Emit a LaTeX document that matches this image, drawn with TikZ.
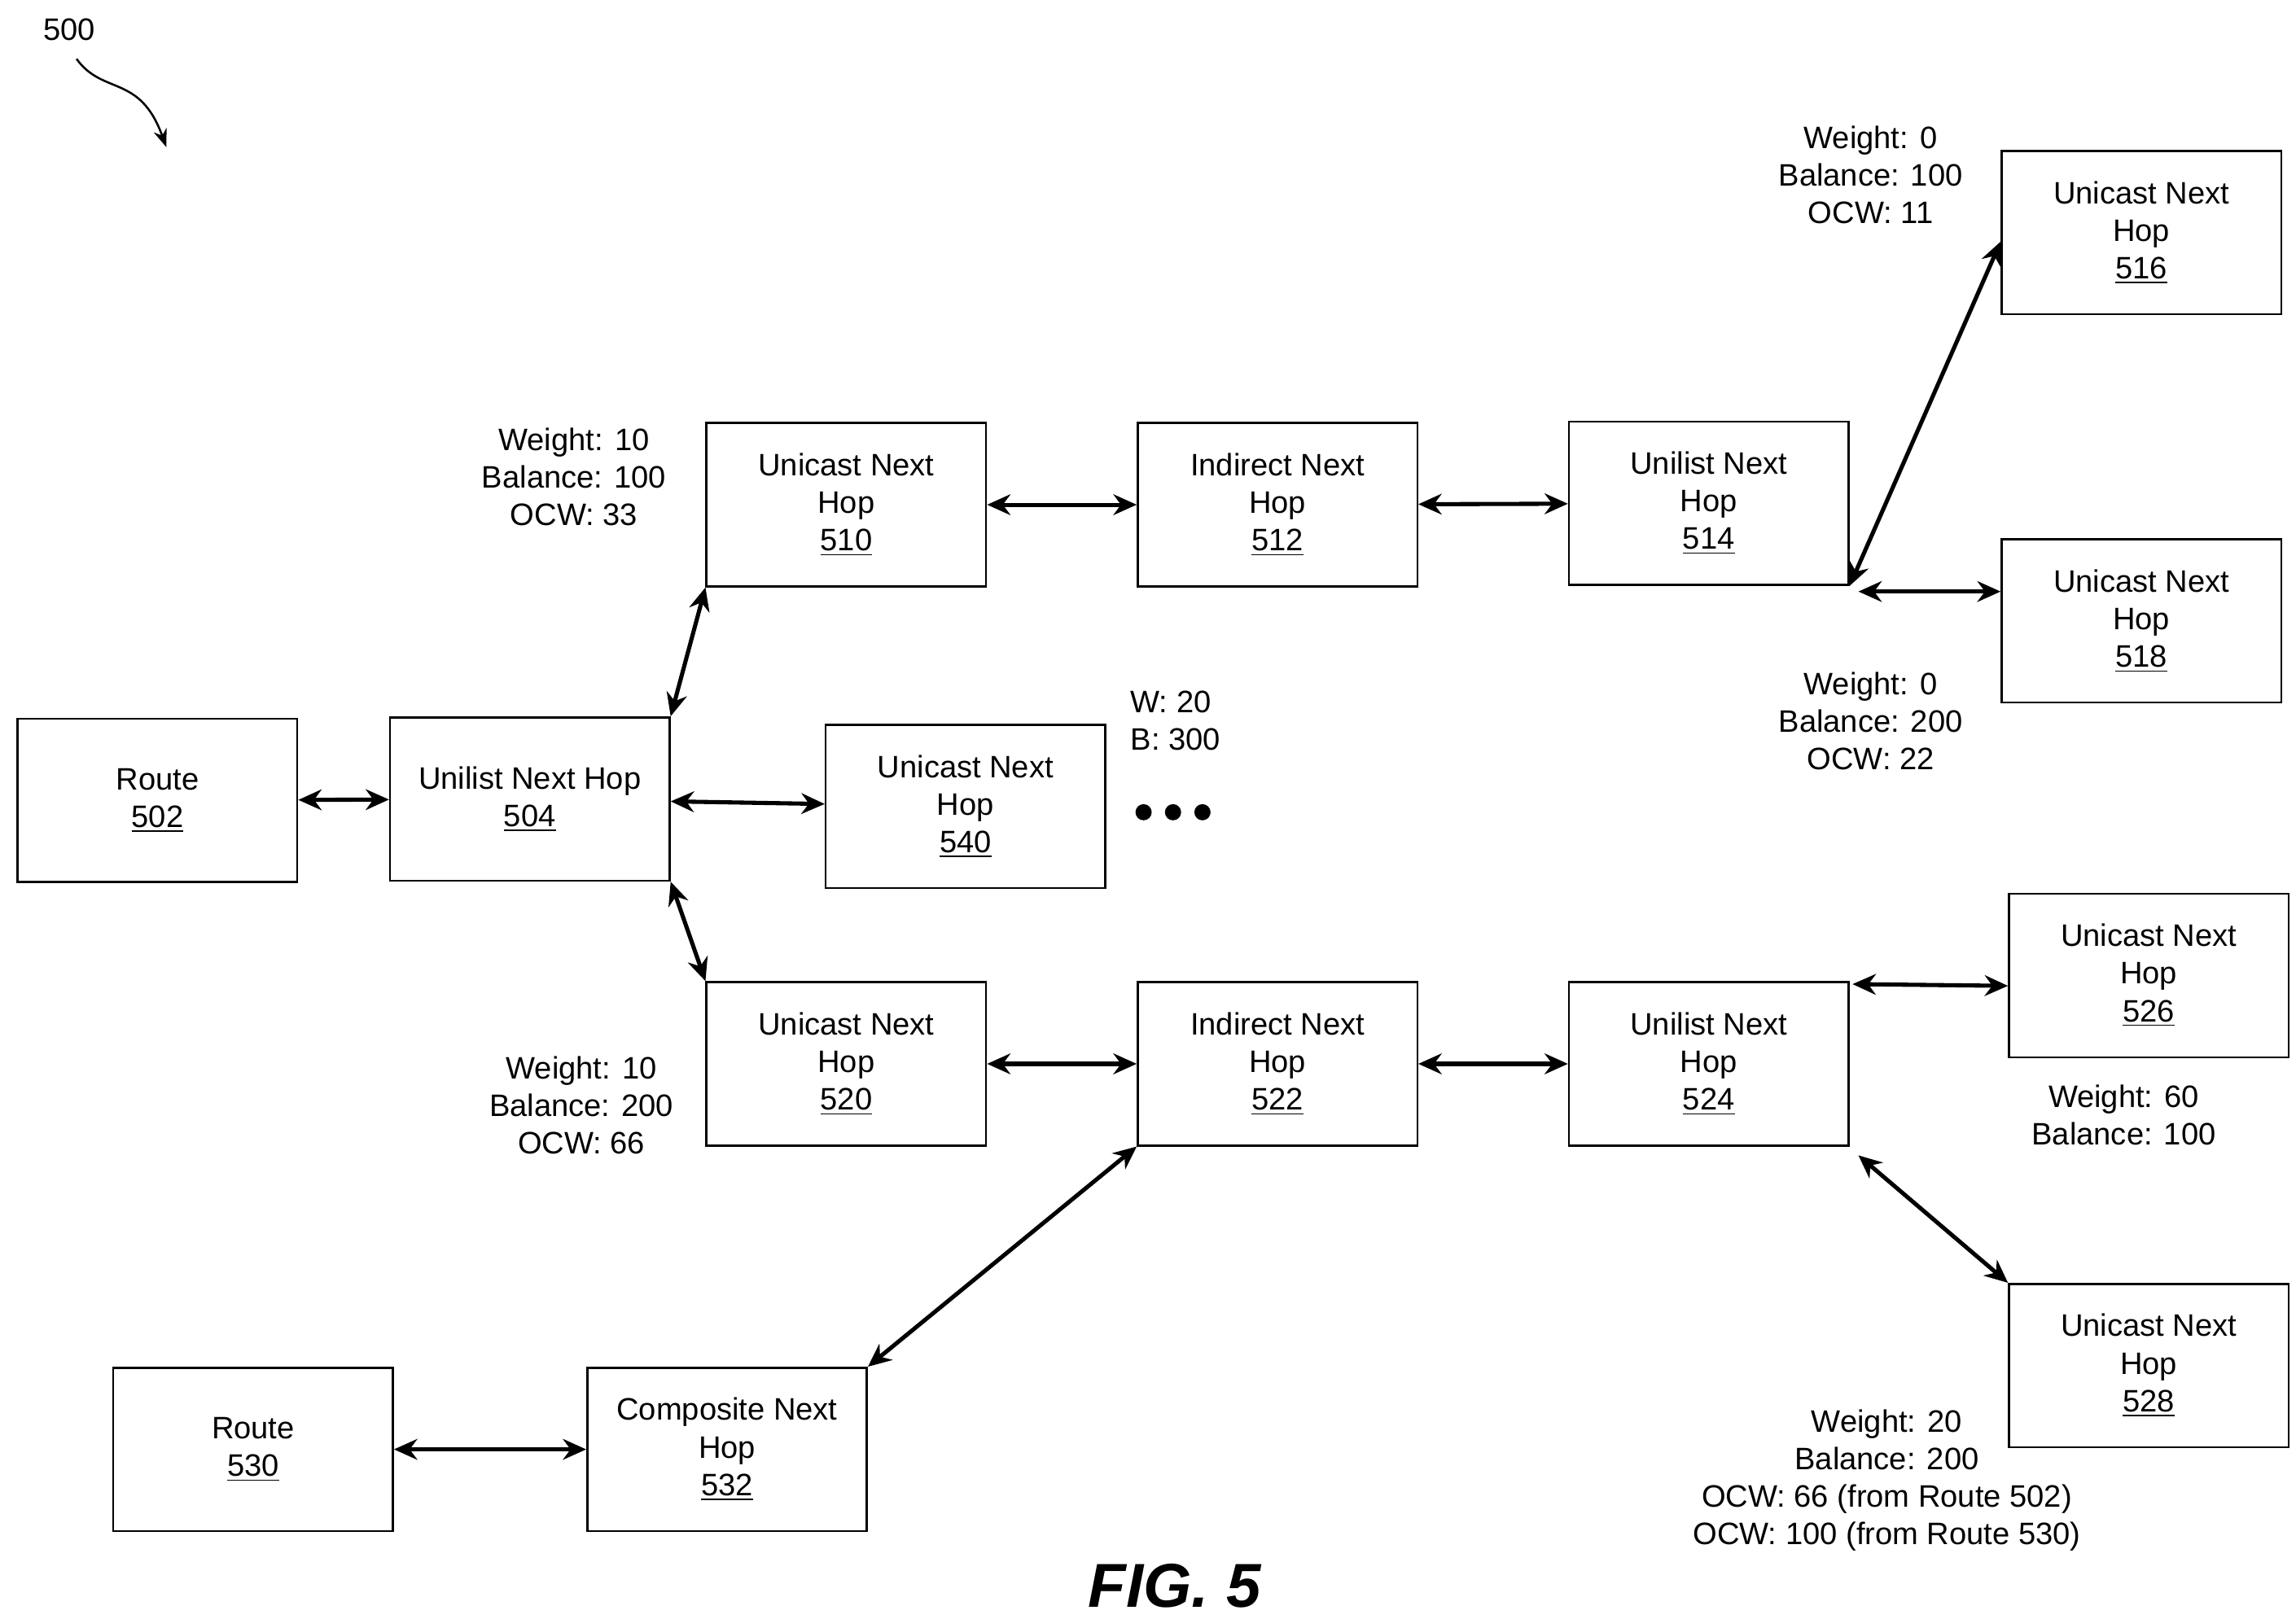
\documentclass[tikz,border=0pt]{standalone}
\usepackage{fontspec}
\setmainfont{Liberation Sans}
\usetikzlibrary{arrows.meta,calc}

\tikzset{
  hop/.style={draw,thick,minimum width=3.8cm,minimum height=2.22cm,align=center,inner sep=2pt,
    font=\fontsize{12}{14.5}\selectfont},
  info/.style={align=center,font=\fontsize{12}{14.5}\selectfont},
  link/.style={ultra thick,{Stealth[length=9pt,width=8pt]}-{Stealth[length=9pt,width=8pt]}}
}

\begin{document}
\begin{tikzpicture}[x=0.02cm,y=-0.02cm]
\useasboundingbox (0,0) rectangle (1560,1100);

\node[info] at (47,20) {500};
\draw[thick,-{Stealth[length=7pt]}] (52,40) .. controls (70,65) and (95,50) .. (113,100);

\node (r502) at (107,544)[hop]{Route\\\underline{502}};
\node (u504) at (360,543)[hop]{Unilist Next Hop\\\underline{504}};
\node (u510) at (575,343)[hop]{Unicast Next\\Hop\\\underline{510}};
\node (i512) at (868,343)[hop]{Indirect Next\\Hop\\\underline{512}};
\node (u514) at (1161,342)[hop]{Unilist Next\\Hop\\\underline{514}};
\node (u516) at (1455,158)[hop]{Unicast Next\\Hop\\\underline{516}};
\node (u518) at (1455,422)[hop]{Unicast Next\\Hop\\\underline{518}};
\node (u540) at (656,548)[hop]{Unicast Next\\Hop\\\underline{540}};
\node (u520) at (575,723)[hop]{Unicast Next\\Hop\\\underline{520}};
\node (i522) at (868,723)[hop]{Indirect Next\\Hop\\\underline{522}};
\node (u524) at (1161,723)[hop]{Unilist Next\\Hop\\\underline{524}};
\node (u526) at (1460,663)[hop]{Unicast Next\\Hop\\\underline{526}};
\node (u528) at (1460,928)[hop]{Unicast Next\\Hop\\\underline{528}};
\node (r530) at (172,985)[hop]{Route\\\underline{530}};
\node (c532) at (494,985)[hop]{Composite Next\\Hop\\\underline{532}};

% connectors
\draw[link] (r502) -- (u504);
\draw[link] (u504) -- (u540);
\draw[link] (u504.north east) -- (u510.south west);
\draw[link] (u504.south east) -- (u520.north west);
\draw[link] (u510) -- (i512);
\draw[link] (i512) -- (u514);
\draw[link] (u514.south east) -- ($(u516.south west)+(0,-50)$);
\draw[link] ($(u514.east)+(6,60)$) -- ($(u518.west)+(0,-20)$);
\draw[link] (u520) -- (i522);
\draw[link] (i522) -- (u524);
\draw[link] ($(u524.north east)+(2,2)$) -- ($(u526.west)+(0,7)$);
\draw[link] ($(u524.south east)+(6,6)$) -- (u528.north west);
\draw[link] (i522.south west) -- (c532.north east);
\draw[link] (r530) -- (c532);

% weights
\node[info] at (390,324) {Weight: 10\\Balance: 100\\OCW: 33};
\node[info] at (1271,119) {Weight: 0\\Balance: 100\\OCW: 11};
\node[info] at (1271,490) {Weight: 0\\Balance: 200\\OCW: 22};
\node[info,align=left,anchor=west] at (762,490) {W: 20\\B: 300};
\node[info] at (395,751) {Weight: 10\\Balance: 200\\OCW: 66};
\node[info] at (1443,758) {Weight: 60\\Balance: 100};
\node[info] at (1282,1006) {Weight: 20\\Balance: 200\\OCW: 66 (from Route 502)\\OCW: 100 (from Route 530)};
\foreach \x in {777,797,817} \fill (\x,552) circle (5.5);

\node[font=\fontsize{24}{28}\selectfont\bfseries\itshape] at (798,1078) {FIG. 5};
\end{tikzpicture}
\end{document}
